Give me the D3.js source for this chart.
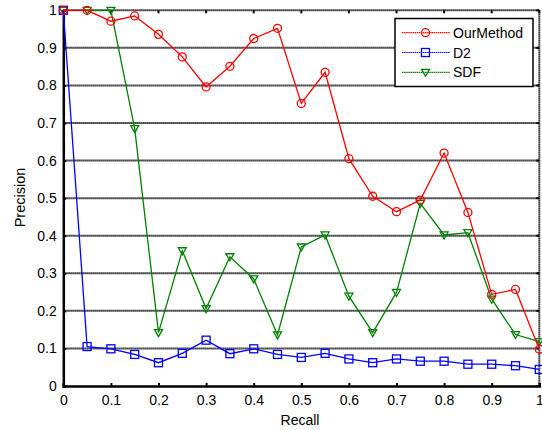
<!DOCTYPE html>
<html><head><meta charset="utf-8">
<script src="https://cdn.jsdelivr.net/npm/d3@7"></script>
<style>body{margin:0;background:#fff}svg{display:block}text{font-family:"Liberation Sans",Arial,sans-serif}</style>
</head><body>
<script>
const recall = [0,0.05,0.1,0.15,0.2,0.25,0.3,0.35,0.4,0.45,0.5,0.55,0.6,0.65,0.7,0.75,0.8,0.85,0.9,0.95,1];
const ourMethod = [1,1,0.971,0.985,0.936,0.876,0.796,0.851,0.925,0.952,0.752,0.835,0.605,0.505,0.464,0.495,0.62,0.462,0.244,0.257,0.098];
const d2 = [1,0.105,0.099,0.084,0.062,0.087,0.122,0.086,0.099,0.084,0.076,0.087,0.072,0.062,0.072,0.066,0.066,0.058,0.058,0.054,0.044];
const sdf = [1,1,1,0.685,0.142,0.36,0.206,0.344,0.285,0.136,0.37,0.402,0.239,0.142,0.249,0.486,0.402,0.408,0.231,0.137,0.118];
const xTicks = [0,0.1,0.2,0.3,0.4,0.5,0.6,0.7,0.8,0.9,1];
const yTicks = [0,0.1,0.2,0.3,0.4,0.5,0.6,0.7,0.8,0.9,1];
const seriesNames = ["OurMethod","D2","SDF"];
const seriesColors = ["#ff0000","#0000ff","#008000"];
const seriesMarkers = ["circle","square","triangle"];

const W=542,H=430;
const svg=d3.select("body").append("svg").attr("width",W).attr("height",H);
const x=d3.scaleLinear().domain([0,1]).range([63.3,539.3]);
const y=d3.scaleLinear().domain([0,1]).range([386,10.3]);

// grid
svg.append("g").selectAll("line").data(yTicks.filter(v=>v>0)).join("line")
 .attr("x1",x(0)).attr("x2",x(1)).attr("y1",d=>y(d)).attr("y2",d=>y(d))
 .attr("stroke","#000").attr("stroke-width",2).attr("stroke-dasharray","1.3,0.7");
// right border
svg.append("line").attr("x1",x(1)).attr("x2",x(1)).attr("y1",y(1)).attr("y2",y(0))
 .attr("stroke","#000").attr("stroke-width",2).attr("stroke-dasharray","1.3,0.7");

// axes
const xAxis=d3.axisBottom(x).tickValues(xTicks).tickFormat(d3.format("")).tickSize(-3);
const gx=svg.append("g").attr("transform",`translate(0,${y(0)})`).call(xAxis);
gx.select(".domain").attr("stroke-width",2.5);
gx.selectAll("text").attr("font-size",14).attr("fill","#000").attr("dy",null).attr("y",19);
gx.selectAll(".tick line").attr("stroke-width",2);
const yAxis=d3.axisLeft(y).tickValues(yTicks).tickFormat(d3.format("")).tickSize(-3).tickPadding(6.5);
const gy=svg.append("g").attr("transform",`translate(${x(0)},0)`).call(yAxis);
gy.select(".domain").attr("stroke-width",2.5);
gy.selectAll("text").attr("font-size",14).attr("fill","#000");
gy.selectAll(".tick line").attr("stroke-width",2);
// top/right ticks
svg.append("g").selectAll("line").data(xTicks).join("line")
 .attr("x1",d=>x(d)).attr("x2",d=>x(d)).attr("y1",y(1)).attr("y2",y(1)+3).attr("stroke","#000").attr("stroke-width",2);
svg.append("g").selectAll("line").data(yTicks).join("line")
 .attr("x1",x(1)-3).attr("x2",x(1)).attr("y1",d=>y(d)).attr("y2",d=>y(d)).attr("stroke","#000").attr("stroke-width",2);

svg.append("text").attr("x",300).attr("y",425).attr("text-anchor","middle").attr("font-size",14).text("Recall");
svg.append("text").attr("transform","translate(25,197.5) rotate(-90)").attr("text-anchor","middle").attr("font-size",14.5).text("Precision");

function marker(g,type,color,cx,cy){
  if(type==="circle") g.append("circle").attr("cx",cx).attr("cy",cy).attr("r",4).attr("fill","none").attr("stroke",color).attr("stroke-width",1.3);
  else if(type==="square") g.append("rect").attr("x",cx-4).attr("y",cy-4).attr("width",8).attr("height",8).attr("fill","none").attr("stroke",color).attr("stroke-width",1.3);
  else g.append("path").attr("d",`M${cx-4},${cy-3}L${cx+4},${cy-3}L${cx},${cy+4}Z`).attr("fill","none").attr("stroke",color).attr("stroke-width",1.3);
}
const allData=[ourMethod,d2,sdf];
const line=d3.line().x((d,i)=>x(recall[i])).y(d=>y(d));
[2,1,0].forEach(k=>{
  const g=svg.append("g");
  g.append("path").datum(allData[k]).attr("d",line).attr("fill","none").attr("stroke",seriesColors[k]).attr("stroke-width",1.3);
  allData[k].forEach((v,i)=>marker(g,seriesMarkers[k],seriesColors[k],x(recall[i]),y(v)));
});

// legend
const lg=svg.append("g");
lg.append("rect").attr("x",395).attr("y",18.5).attr("width",138).attr("height",68).attr("fill","#fff").attr("stroke","#000").attr("stroke-width",1.5);
seriesNames.forEach((n,k)=>{
  const yy=32.7+k*19.8;
  lg.append("line").attr("x1",402).attr("x2",450).attr("y1",yy).attr("y2",yy).attr("stroke",seriesColors[k]).attr("stroke-width",1.2).attr("stroke-dasharray","1.5,0.6");
  marker(lg,seriesMarkers[k],seriesColors[k],425.5,yy);
  lg.append("text").attr("x",453).attr("y",yy).attr("dy","0.36em").attr("font-size",14).text(n);
});
</script>
</body></html>
